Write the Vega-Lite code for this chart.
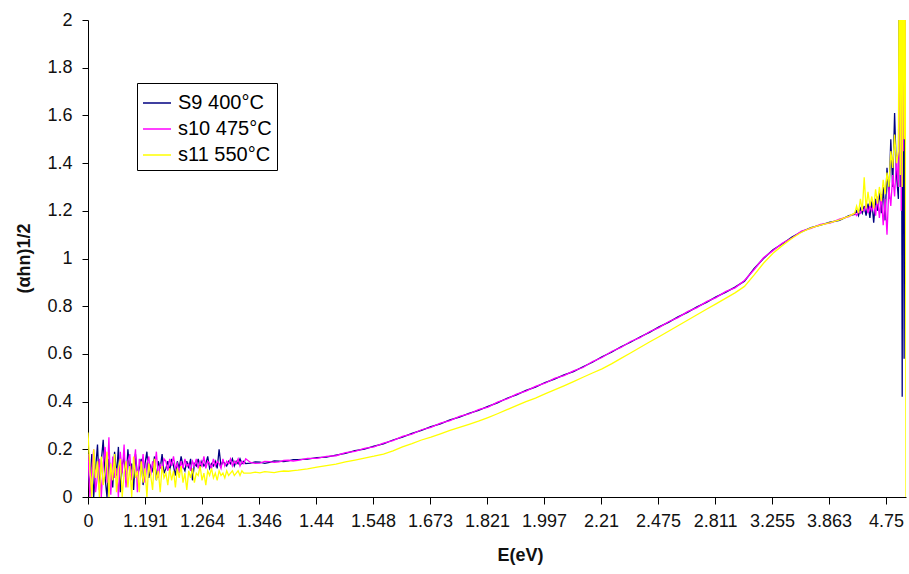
{
  "$schema": "https://vega.github.io/schema/vega-lite/v6.json",
  "width": 818,
  "height": 477,
  "autosize": {"type": "none"},
  "padding": {"left": 88, "top": 20, "right": 3, "bottom": 77},
  "background": "white",
  "config": {
    "view": {"stroke": null},
    "font": "Liberation Sans",
    "axis": {"grid": false, "domainColor": "#000", "tickColor": "#000", "labelColor": "#111", "titleColor": "#111", "labelFont": "Liberation Sans", "titleFont": "Liberation Sans", "labelFontSize": 18, "titleFontSize": 18, "titleFontWeight": "bold"}
  },
  "data": {"values": [
    {"w":1101,"S9 400°C":0.10,"s10 475°C":0.18,"s11 550°C":0.27},
    {"w":1099,"S9 400°C":0.05,"s10 475°C":0.00,"s11 550°C":0.12},
    {"w":1097,"S9 400°C":0.18,"s10 475°C":0.12,"s11 550°C":0.00},
    {"w":1095,"S9 400°C":0.00,"s10 475°C":0.20,"s11 550°C":0.20},
    {"w":1093,"S9 400°C":0.12,"s10 475°C":0.02,"s11 550°C":0.08},
    {"w":1091,"S9 400°C":0.22,"s10 475°C":0.09,"s11 550°C":0.15},
    {"w":1089,"S9 400°C":0.03,"s10 475°C":0.16,"s11 550°C":0.00},
    {"w":1087,"S9 400°C":0.15,"s10 475°C":0.00,"s11 550°C":0.17},
    {"w":1085,"S9 400°C":0.24,"s10 475°C":0.14,"s11 550°C":0.05},
    {"w":1083,"S9 400°C":0.08,"s10 475°C":0.21,"s11 550°C":0.11},
    {"w":1081,"S9 400°C":0.00,"s10 475°C":0.06,"s11 550°C":0.19},
    {"w":1079,"S9 400°C":0.16,"s10 475°C":0.25,"s11 550°C":0.00},
    {"w":1077,"S9 400°C":0.11,"s10 475°C":0.01,"s11 550°C":0.14},
    {"w":1075,"S9 400°C":0.04,"s10 475°C":0.17,"s11 550°C":0.07},
    {"w":1073,"S9 400°C":0.19,"s10 475°C":0.08,"s11 550°C":0.18},
    {"w":1071,"S9 400°C":0.09,"s10 475°C":0.12,"s11 550°C":0.02},
    {"w":1069,"S9 400°C":0.21,"s10 475°C":0.00,"s11 550°C":0.12},
    {"w":1067,"S9 400°C":0.02,"s10 475°C":0.19,"s11 550°C":0.16},
    {"w":1065,"S9 400°C":0.13,"s10 475°C":0.10,"s11 550°C":0.00},
    {"w":1063,"S9 400°C":0.17,"s10 475°C":0.22,"s11 550°C":0.10},
    {"w":1061,"S9 400°C":0.06,"s10 475°C":0.04,"s11 550°C":0.15},
    {"w":1059,"S9 400°C":0.20,"s10 475°C":0.15,"s11 550°C":0.04},
    {"w":1057,"S9 400°C":0.10,"s10 475°C":0.18,"s11 550°C":0.13},
    {"w":1055,"S9 400°C":0.14,"s10 475°C":0.07,"s11 550°C":0.00},
    {"w":1053,"S9 400°C":0.03,"s10 475°C":0.13,"s11 550°C":0.17},
    {"w":1051,"S9 400°C":0.18,"s10 475°C":0.20,"s11 550°C":0.08},
    {"w":1049,"S9 400°C":0.09,"s10 475°C":0.02,"s11 550°C":0.11},
    {"w":1047,"S9 400°C":0.12,"s10 475°C":0.16,"s11 550°C":0.02},
    {"w":1045,"S9 400°C":0.16,"s10 475°C":0.11,"s11 550°C":0.15},
    {"w":1043,"S9 400°C":0.05,"s10 475°C":0.18,"s11 550°C":0.06},
    {"w":1041,"S9 400°C":0.14,"s10 475°C":0.06,"s11 550°C":0.12},
    {"w":1039,"S9 400°C":0.19,"s10 475°C":0.14,"s11 550°C":0.00},
    {"w":1037,"S9 400°C":0.08,"s10 475°C":0.17,"s11 550°C":0.14},
    {"w":1035,"S9 400°C":0.13,"s10 475°C":0.09,"s11 550°C":0.09},
    {"w":1033,"S9 400°C":0.11,"s10 475°C":0.15,"s11 550°C":0.03},
    {"w":1031,"S9 400°C":0.17,"s10 475°C":0.12,"s11 550°C":0.16},
    {"w":1029,"S9 400°C":0.07,"s10 475°C":0.19,"s11 550°C":0.07},
    {"w":1027,"S9 400°C":0.15,"s10 475°C":0.08,"s11 550°C":0.11},
    {"w":1025,"S9 400°C":0.12,"s10 475°C":0.14,"s11 550°C":0.02},
    {"w":1023,"S9 400°C":0.18,"s10 475°C":0.11,"s11 550°C":0.13},
    {"w":1021,"S9 400°C":0.10,"s10 475°C":0.16,"s11 550°C":0.08},
    {"w":1019,"S9 400°C":0.12,"s10 475°C":0.15,"s11 550°C":0.10},
    {"w":1017,"S9 400°C":0.15,"s10 475°C":0.11,"s11 550°C":0.05},
    {"w":1015,"S9 400°C":0.11,"s10 475°C":0.16,"s11 550°C":0.12},
    {"w":1013,"S9 400°C":0.16,"s10 475°C":0.13,"s11 550°C":0.07},
    {"w":1011,"S9 400°C":0.13,"s10 475°C":0.17,"s11 550°C":0.11},
    {"w":1009,"S9 400°C":0.09,"s10 475°C":0.12,"s11 550°C":0.04},
    {"w":1007,"S9 400°C":0.15,"s10 475°C":0.14,"s11 550°C":0.12},
    {"w":1005,"S9 400°C":0.12,"s10 475°C":0.10,"s11 550°C":0.08},
    {"w":1003,"S9 400°C":0.17,"s10 475°C":0.15,"s11 550°C":0.13},
    {"w":1001,"S9 400°C":0.13,"s10 475°C":0.12,"s11 550°C":0.06},
    {"w":999,"S9 400°C":0.11,"s10 475°C":0.16,"s11 550°C":0.10},
    {"w":997,"S9 400°C":0.15,"s10 475°C":0.13,"s11 550°C":0.03},
    {"w":995,"S9 400°C":0.12,"s10 475°C":0.14,"s11 550°C":0.11},
    {"w":993,"S9 400°C":0.16,"s10 475°C":0.11,"s11 550°C":0.08},
    {"w":991,"S9 400°C":0.07,"s10 475°C":0.15,"s11 550°C":0.12},
    {"w":989,"S9 400°C":0.14,"s10 475°C":0.13,"s11 550°C":0.06},
    {"w":987,"S9 400°C":0.13,"s10 475°C":0.16,"s11 550°C":0.10},
    {"w":985,"S9 400°C":0.16,"s10 475°C":0.12,"s11 550°C":0.09},
    {"w":983,"S9 400°C":0.12,"s10 475°C":0.15,"s11 550°C":0.13},
    {"w":981,"S9 400°C":0.15,"s10 475°C":0.13,"s11 550°C":0.07},
    {"w":979,"S9 400°C":0.13,"s10 475°C":0.17,"s11 550°C":0.10},
    {"w":977,"S9 400°C":0.14,"s10 475°C":0.12,"s11 550°C":0.05},
    {"w":975,"S9 400°C":0.17,"s10 475°C":0.15,"s11 550°C":0.11},
    {"w":973,"S9 400°C":0.12,"s10 475°C":0.14,"s11 550°C":0.09},
    {"w":971,"S9 400°C":0.14,"s10 475°C":0.12,"s11 550°C":0.12},
    {"w":969,"S9 400°C":0.13,"s10 475°C":0.16,"s11 550°C":0.08},
    {"w":967,"S9 400°C":0.15,"s10 475°C":0.13,"s11 550°C":0.10},
    {"w":965,"S9 400°C":0.12,"s10 475°C":0.15,"s11 550°C":0.07},
    {"w":963,"S9 400°C":0.20,"s10 475°C":0.14,"s11 550°C":0.11},
    {"w":961,"S9 400°C":0.13,"s10 475°C":0.12,"s11 550°C":0.09},
    {"w":959,"S9 400°C":0.15,"s10 475°C":0.16,"s11 550°C":0.10},
    {"w":957,"S9 400°C":0.14,"s10 475°C":0.13,"s11 550°C":0.08},
    {"w":955,"S9 400°C":0.13,"s10 475°C":0.15,"s11 550°C":0.11},
    {"w":953,"S9 400°C":0.15,"s10 475°C":0.14,"s11 550°C":0.09},
    {"w":951,"S9 400°C":0.14,"s10 475°C":0.16,"s11 550°C":0.10},
    {"w":949,"S9 400°C":0.16,"s10 475°C":0.13,"s11 550°C":0.11},
    {"w":947,"S9 400°C":0.13,"s10 475°C":0.15,"s11 550°C":0.09},
    {"w":945,"S9 400°C":0.15,"s10 475°C":0.14,"s11 550°C":0.10},
    {"w":943,"S9 400°C":0.14,"s10 475°C":0.16,"s11 550°C":0.11},
    {"w":941,"S9 400°C":0.16,"s10 475°C":0.13,"s11 550°C":0.09},
    {"w":939,"S9 400°C":0.14,"s10 475°C":0.15,"s11 550°C":0.11},
    {"w":937,"S9 400°C":0.15,"s10 475°C":0.14,"s11 550°C":0.10},
    {"w":935,"S9 400°C":0.14,"s10 475°C":0.16,"s11 550°C":0.10},
    {"w":930,"S9 400°C":0.142,"s10 475°C":0.145,"s11 550°C":0.100},
    {"w":925,"S9 400°C":0.147,"s10 475°C":0.141,"s11 550°C":0.104},
    {"w":920,"S9 400°C":0.146,"s10 475°C":0.142,"s11 550°C":0.101},
    {"w":915,"S9 400°C":0.141,"s10 475°C":0.149,"s11 550°C":0.106},
    {"w":910,"S9 400°C":0.145,"s10 475°C":0.148,"s11 550°C":0.104},
    {"w":905,"S9 400°C":0.151,"s10 475°C":0.145,"s11 550°C":0.102},
    {"w":900,"S9 400°C":0.150,"s10 475°C":0.147,"s11 550°C":0.106},
    {"w":895,"S9 400°C":0.148,"s10 475°C":0.153,"s11 550°C":0.109},
    {"w":890,"S9 400°C":0.151,"s10 475°C":0.154,"s11 550°C":0.108},
    {"w":885,"S9 400°C":0.157,"s10 475°C":0.151,"s11 550°C":0.111},
    {"w":880,"S9 400°C":0.157,"s10 475°C":0.154,"s11 550°C":0.113},
    {"w":870,"S9 400°C":0.159,"s10 475°C":0.162,"s11 550°C":0.118},
    {"w":860,"S9 400°C":0.165,"s10 475°C":0.162,"s11 550°C":0.125},
    {"w":850,"S9 400°C":0.167,"s10 475°C":0.170,"s11 550°C":0.132},
    {"w":840,"S9 400°C":0.176,"s10 475°C":0.173,"s11 550°C":0.138},
    {"w":830,"S9 400°C":0.183,"s10 475°C":0.186,"s11 550°C":0.147},
    {"w":820,"S9 400°C":0.194,"s10 475°C":0.191,"s11 550°C":0.155},
    {"w":810,"S9 400°C":0.201,"s10 475°C":0.204,"s11 550°C":0.163},
    {"w":800,"S9 400°C":0.213,"s10 475°C":0.210,"s11 550°C":0.171},
    {"w":790,"S9 400°C":0.223,"s10 475°C":0.226,"s11 550°C":0.180},
    {"w":780,"S9 400°C":0.239,"s10 475°C":0.236,"s11 550°C":0.193},
    {"w":770,"S9 400°C":0.251,"s10 475°C":0.254,"s11 550°C":0.210},
    {"w":760,"S9 400°C":0.267,"s10 475°C":0.264,"s11 550°C":0.224},
    {"w":750,"S9 400°C":0.279,"s10 475°C":0.282,"s11 550°C":0.239},
    {"w":740,"S9 400°C":0.295,"s10 475°C":0.292,"s11 550°C":0.251},
    {"w":730,"S9 400°C":0.307,"s10 475°C":0.310,"s11 550°C":0.265},
    {"w":720,"S9 400°C":0.323,"s10 475°C":0.320,"s11 550°C":0.279},
    {"w":710,"S9 400°C":0.335,"s10 475°C":0.338,"s11 550°C":0.292},
    {"w":700,"S9 400°C":0.351,"s10 475°C":0.348,"s11 550°C":0.305},
    {"w":690,"S9 400°C":0.363,"s10 475°C":0.366,"s11 550°C":0.318},
    {"w":680,"S9 400°C":0.380,"s10 475°C":0.377,"s11 550°C":0.333},
    {"w":670,"S9 400°C":0.395,"s10 475°C":0.398,"s11 550°C":0.349},
    {"w":660,"S9 400°C":0.414,"s10 475°C":0.411,"s11 550°C":0.366},
    {"w":650,"S9 400°C":0.428,"s10 475°C":0.431,"s11 550°C":0.383},
    {"w":640,"S9 400°C":0.447,"s10 475°C":0.444,"s11 550°C":0.400},
    {"w":630,"S9 400°C":0.461,"s10 475°C":0.464,"s11 550°C":0.415},
    {"w":620,"S9 400°C":0.480,"s10 475°C":0.477,"s11 550°C":0.432},
    {"w":610,"S9 400°C":0.494,"s10 475°C":0.497,"s11 550°C":0.449},
    {"w":600,"S9 400°C":0.512,"s10 475°C":0.509,"s11 550°C":0.466},
    {"w":590,"S9 400°C":0.526,"s10 475°C":0.529,"s11 550°C":0.484},
    {"w":580,"S9 400°C":0.546,"s10 475°C":0.543,"s11 550°C":0.502},
    {"w":570,"S9 400°C":0.565,"s10 475°C":0.568,"s11 550°C":0.520},
    {"w":560,"S9 400°C":0.588,"s10 475°C":0.585,"s11 550°C":0.537},
    {"w":550,"S9 400°C":0.607,"s10 475°C":0.610,"s11 550°C":0.558},
    {"w":540,"S9 400°C":0.630,"s10 475°C":0.627,"s11 550°C":0.581},
    {"w":530,"S9 400°C":0.649,"s10 475°C":0.652,"s11 550°C":0.604},
    {"w":520,"S9 400°C":0.671,"s10 475°C":0.668,"s11 550°C":0.627},
    {"w":510,"S9 400°C":0.690,"s10 475°C":0.693,"s11 550°C":0.650},
    {"w":500,"S9 400°C":0.713,"s10 475°C":0.710,"s11 550°C":0.672},
    {"w":490,"S9 400°C":0.732,"s10 475°C":0.735,"s11 550°C":0.695},
    {"w":480,"S9 400°C":0.755,"s10 475°C":0.752,"s11 550°C":0.718},
    {"w":470,"S9 400°C":0.774,"s10 475°C":0.777,"s11 550°C":0.741},
    {"w":460,"S9 400°C":0.797,"s10 475°C":0.794,"s11 550°C":0.764},
    {"w":450,"S9 400°C":0.816,"s10 475°C":0.819,"s11 550°C":0.787},
    {"w":440,"S9 400°C":0.839,"s10 475°C":0.836,"s11 550°C":0.810},
    {"w":430,"S9 400°C":0.858,"s10 475°C":0.861,"s11 550°C":0.833},
    {"w":420,"S9 400°C":0.880,"s10 475°C":0.877,"s11 550°C":0.856},
    {"w":410,"S9 400°C":0.905,"s10 475°C":0.908,"s11 550°C":0.883},
    {"w":400,"S9 400°C":0.957,"s10 475°C":0.953,"s11 550°C":0.930},
    {"w":390,"S9 400°C":1.000,"s10 475°C":1.003,"s11 550°C":0.980},
    {"w":380,"S9 400°C":1.037,"s10 475°C":1.033,"s11 550°C":1.022},
    {"w":370,"S9 400°C":1.062,"s10 475°C":1.065,"s11 550°C":1.055},
    {"w":360,"S9 400°C":1.090,"s10 475°C":1.086,"s11 550°C":1.085},
    {"w":350,"S9 400°C":1.112,"s10 475°C":1.115,"s11 550°C":1.110},
    {"w":340,"S9 400°C":1.130,"s10 475°C":1.126,"s11 550°C":1.128},
    {"w":330,"S9 400°C":1.140,"s10 475°C":1.143,"s11 550°C":1.140},
    {"w":320,"S9 400°C":1.152,"s10 475°C":1.148,"s11 550°C":1.150},
    {"w":310,"S9 400°C":1.160,"s10 475°C":1.165,"s11 550°C":1.162},
    {"w":300,"S9 400°C":1.180,"s10 475°C":1.176,"s11 550°C":1.178},
    {"w":294,"S9 400°C":1.185,"s10 475°C":1.19,"s11 550°C":1.19},
    {"w":292,"S9 400°C":1.20,"s10 475°C":1.18,"s11 550°C":1.22},
    {"w":290,"S9 400°C":1.18,"s10 475°C":1.20,"s11 550°C":1.19},
    {"w":288,"S9 400°C":1.21,"s10 475°C":1.19,"s11 550°C":1.25},
    {"w":286,"S9 400°C":1.19,"s10 475°C":1.21,"s11 550°C":1.20},
    {"w":284,"S9 400°C":1.22,"s10 475°C":1.20,"s11 550°C":1.34},
    {"w":282,"S9 400°C":1.18,"s10 475°C":1.23,"s11 550°C":1.21},
    {"w":280,"S9 400°C":1.23,"s10 475°C":1.19,"s11 550°C":1.28},
    {"w":278,"S9 400°C":1.17,"s10 475°C":1.22,"s11 550°C":1.22},
    {"w":276,"S9 400°C":1.24,"s10 475°C":1.20,"s11 550°C":1.26},
    {"w":274,"S9 400°C":1.15,"s10 475°C":1.23,"s11 550°C":1.21},
    {"w":272,"S9 400°C":1.25,"s10 475°C":1.18,"s11 550°C":1.29},
    {"w":270,"S9 400°C":1.20,"s10 475°C":1.26,"s11 550°C":1.23},
    {"w":268,"S9 400°C":1.28,"s10 475°C":1.17,"s11 550°C":1.30},
    {"w":266,"S9 400°C":1.19,"s10 475°C":1.27,"s11 550°C":1.24},
    {"w":264,"S9 400°C":1.30,"s10 475°C":1.14,"s11 550°C":1.33},
    {"w":262,"S9 400°C":1.16,"s10 475°C":1.25,"s11 550°C":1.27},
    {"w":260,"S9 400°C":1.38,"s10 475°C":1.10,"s11 550°C":1.36},
    {"w":258,"S9 400°C":1.25,"s10 475°C":1.30,"s11 550°C":1.30},
    {"w":256,"S9 400°C":1.50,"s10 475°C":1.22,"s11 550°C":1.45},
    {"w":254,"S9 400°C":1.30,"s10 475°C":1.35,"s11 550°C":1.38},
    {"w":252,"S9 400°C":1.61,"s10 475°C":1.26,"s11 550°C":1.52},
    {"w":250,"S9 400°C":1.35,"s10 475°C":1.42,"s11 550°C":1.40},
    {"w":248,"S9 400°C":1.25,"s10 475°C":1.30,"s11 550°C":1.45},
    {"w":247,"S9 400°C":2.5,"s10 475°C":1.6,"s11 550°C":2.5},
    {"w":246,"S9 400°C":1.3,"s10 475°C":2.5,"s11 550°C":1.35},
    {"w":245,"S9 400°C":2.5,"s10 475°C":1.2,"s11 550°C":2.5},
    {"w":244,"S9 400°C":0.42,"s10 475°C":2.5,"s11 550°C":1.3},
    {"w":243,"S9 400°C":2.5,"s10 475°C":1.45,"s11 550°C":2.5},
    {"w":242,"S9 400°C":0.58,"s10 475°C":2.5,"s11 550°C":1.5},
    {"w":241,"S9 400°C":1.9,"s10 475°C":1.5,"s11 550°C":2.5},
    {"w":240,"S9 400°C":2.5,"s10 475°C":2.5,"s11 550°C":0.0}
  ]},
  "transform": [{"fold": ["S9 400°C", "s10 475°C", "s11 550°C"], "as": ["series", "v"]}],
  "mark": {"type": "line", "strokeWidth": 1.3, "clip": true, "interpolate": "linear"},
  "encoding": {
    "x": {
      "field": "w", "type": "quantitative",
      "scale": {"domain": [240, 1101], "reverse": true, "nice": false, "zero": false},
      "axis": {
        "title": "E(eV)",
        "values": [1101, 1041, 981, 921, 861, 801, 741, 681, 621, 561, 501, 441, 381, 321, 261],
        "labelExpr": "['0','1.191','1.264','1.346','1.44','1.548','1.673','1.821','1.997','2.21','2.475','2.811','3.255','3.863','4.75'][round((1101 - datum.value) / 60)]",
        "tickSize": 7, "labelPadding": 8, "labelOverlap": false, "labelFlush": false,
        "titleX": 432, "titleY": 58, "titleAlign": "center", "titleBaseline": "middle"
      }
    },
    "y": {
      "field": "v", "type": "quantitative",
      "scale": {"domain": [0, 2], "nice": false},
      "axis": {
        "title": "(αhn)1/2",
        "values": [0, 0.2, 0.4, 0.6, 0.8, 1, 1.2, 1.4, 1.6, 1.8, 2],
        "format": "~g",
        "tickSize": 6, "labelPadding": 10, "labelOverlap": false, "labelFlush": false,
        "titleX": -64, "titleY": 238, "titleAlign": "center", "titleBaseline": "middle"
      }
    },
    "color": {
      "field": "series", "type": "nominal",
      "scale": {"domain": ["S9 400°C", "s10 475°C", "s11 550°C"], "range": ["#000080", "#ff00ff", "#ffff00"]},
      "legend": {
        "title": null, "orient": "none", "legendX": 49, "legendY": 63,
        "symbolType": "stroke", "symbolSize": 784, "symbolStrokeWidth": 1.5,
        "labelFont": "Liberation Sans", "labelFontSize": 20, "labelColor": "#000",
        "labelOffset": 6, "rowPadding": 1,
        "padding": 5, "strokeColor": "#000", "fillColor": "#fff"
      }
    }
  }
}
